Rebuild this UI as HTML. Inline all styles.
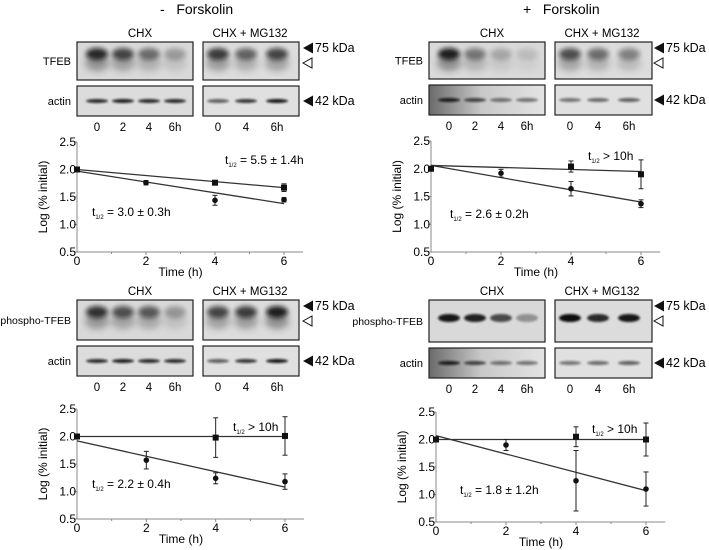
<!DOCTYPE html>
<html><head><meta charset="utf-8">
<style>
html,body{margin:0;padding:0;background:#fff;}
svg{display:block;font-family:"Liberation Sans",Arial,sans-serif;}
</style></head>
<body>
<svg id="fig" width="709" height="550" viewBox="0 0 709 550">
<defs>
<filter id="blur2" x="-50%" y="-100%" width="200%" height="300%"><feGaussianBlur stdDeviation="2.4"/></filter>
<filter id="blur3" x="-50%" y="-100%" width="200%" height="300%"><feGaussianBlur stdDeviation="3.5"/></filter>
<filter id="blur1" x="-50%" y="-100%" width="200%" height="300%"><feGaussianBlur stdDeviation="1"/></filter>
<linearGradient id="darkgrad" x1="0" x2="1" y1="0" y2="0"><stop offset="0" stop-color="#6a6a6a"/><stop offset="0.45" stop-color="#c8c8c8"/><stop offset="1" stop-color="#e4e4e4"/></linearGradient>
</defs>
<text x="160" y="14" font-size="14">-&#160;&#160;&#160;Forskolin</text>
<text x="523" y="14" font-size="14">+&#160;&#160;&#160;Forskolin</text>
</svg>
<script>
// ---- chart data ----
const times = [0, 2, 4, 6];
const timesMG = [0, 4, 6];
const yTicks = [0.5, 1.0, 1.5, 2.0, 2.5];
const xTicks = [0, 2, 4, 6];
// top-left (TFEB, -Forskolin)
const tlCHX = [2.0, 1.76, 1.44, 1.45];
const tlCHXerr = [0.02, 0.04, 0.09, 0.04];
const tlCHXfit = [1.97, 1.38];
const tlMG = [2.0, 1.76, 1.67];
const tlMGerr = [0.02, 0.03, 0.07];
const tlMGfit = [2.0, 1.67];
// top-right (TFEB, +Forskolin)
const trCHX = [2.0, 1.92, 1.64, 1.37];
const trCHXerr = [0.02, 0.07, 0.13, 0.07];
const trCHXfit = [2.06, 1.40];
const trMG = [2.0, 2.04, 1.90];
const trMGerr = [0.02, 0.1, 0.26];
const trMGfit = [2.06, 1.95];
// bottom-left (phospho-TFEB, -Forskolin)
const blCHX = [2.0, 1.57, 1.24, 1.18];
const blCHXerr = [0.02, 0.16, 0.1, 0.14];
const blCHXfit = [1.92, 1.08];
const blMG = [2.0, 1.98, 2.01];
const blMGerr = [0.02, 0.36, 0.35];
const blMGfit = [2.0, 2.0];
// bottom-right (phospho-TFEB, +Forskolin)
const brCHX = [2.0, 1.9, 1.25, 1.1];
const brCHXerr = [0.02, 0.1, 0.55, 0.31];
const brCHXfit = [2.07, 1.07];
const brMG = [2.0, 2.05, 2.0];
const brMGerr = [0.02, 0.18, 0.3];
const brMGfit = [2.0, 2.0];
// blot band intensities
const tlTFEB = [0.85, 0.7, 0.5, 0.28], tlTFEBmg = [0.75, 0.55, 0.7];
const trTFEB = [0.9, 0.45, 0.22, 0.12], trTFEBmg = [0.65, 0.5, 0.4];
const blP = [0.8, 0.65, 0.6, 0.3], blPmg = [0.7, 0.75, 0.9];
const brP = [0.95, 0.9, 0.7, 0.35], brPmg = [1, 0.85, 0.95];
const actinA = [0.85, 0.9, 0.85, 0.85], actinAmg = [0.6, 0.8, 0.95];
const actinB = [0.9, 0.7, 0.5, 0.5], actinBmg = [0.5, 0.55, 0.6];

const NS = "http://www.w3.org/2000/svg";
const svg = document.getElementById('fig');
function mk(tag, attrs, parent, txt) {
  const e = document.createElementNS(NS, tag);
  for (const k in attrs) e.setAttribute(k, attrs[k]);
  if (txt !== undefined) e.textContent = txt;
  (parent || svg).appendChild(e);
  return e;
}

function blotBox(g, x, y, w, h, bg, lanes, vals, bandH, sharp, bandY, name, tail) {
  const box = mk('g', {}, g);
  
  
  mk('rect', {x: x, y: y, width: w, height: h, fill: bg, stroke: '#222', 'stroke-width': 1.2}, box);
  lanes.forEach((lx, i) => {
    const v = vals[i];
    if (tail) mk('ellipse', {cx: lx, cy: y + bandY + 9, rx: 12, ry: 8, fill: '#222', opacity: v * 0.45, filter: 'url(#blur3)'}, box);
    const b = mk('ellipse', {cx: lx, cy: y + bandY, rx: 11, ry: bandH, fill: '#111', opacity: v, filter: sharp ? 'url(#blur1)' : 'url(#blur2)'}, box);
    
    
  });
}

function panel(ox, oy, o) {
  const g = mk('g', {});
  
  
  const L = ox + 77, R = ox + 203;
  mk('text', {x: ox + 140, y: oy + 37, 'font-size': 11.5, 'text-anchor': 'middle'}, g, 'CHX');
  mk('text', {x: ox + 250, y: oy + 37, 'font-size': 11.5, 'text-anchor': 'middle'}, g, 'CHX + MG132');
  const lanesA = [97, 123, 149, 175].map(v => v + ox);
  const lanesB = [218, 246, 277].map(v => v + ox);
  const y1 = oy + 42, h1 = o.h1, y2 = oy + 42 + h1 + 6, h2 = 30;
  const tail = !o.sharp;
  blotBox(g, L, y1, 116, h1, '#d9d9d9', lanesA, o.top, o.sharp ? 4 : 6, o.sharp, o.sharp ? 18 : 12, 'blot-chx-' + o.lab, tail);
  blotBox(g, R, y1, o.mgW, h1, '#dcdcdc', lanesB, o.topmg, o.sharp ? 4 : 6, o.sharp, o.sharp ? 18 : 12, 'blot-mg132-' + o.lab, tail);
  blotBox(g, L, y2, 116, h2, o.dark ? 'url(#darkgrad)' : '#dcdcdc', lanesA, o.act, 2, true, 15, 'blot-chx-actin', false);
  blotBox(g, R, y2, o.mgW, h2, '#e0e0e0', lanesB, o.actmg, 2, true, 15, 'blot-mg132-actin', false);
  mk('text', {x: L - 6, y: y1 + h1 / 2 + 4, 'font-size': o.labFs, 'text-anchor': 'end'}, g, o.lab);
  mk('text', {x: L - 6, y: y2 + 19, 'font-size': 11, 'text-anchor': 'end'}, g, 'actin');
  // arrows
  const ax = o.ax;
  mk('path', {d: `M${ax} ${y1 + 6} l10 -5.5 v11 z`, fill: '#111'}, g);
  mk('text', {x: ax + 12, y: y1 + 10, 'font-size': 12.5}, g, '75 kDa');
  mk('path', {d: `M${ax} ${y1 + 21} l9 -5 v10 z`, fill: 'none', stroke: '#111', 'stroke-width': 1}, g);
  mk('path', {d: `M${ax} ${y2 + 15} l10 -5.5 v11 z`, fill: '#111'}, g);
  mk('text', {x: ax + 12, y: y2 + 19, 'font-size': 12.5}, g, '42 kDa');
  const ly = y2 + h2 + 15;
  ['0', '2', '4', '6h'].forEach((t, i) => mk('text', {x: lanesA[i], y: ly, 'font-size': 11.5, 'text-anchor': 'middle'}, g, t));
  ['0', '4', '6h'].forEach((t, i) => mk('text', {x: lanesB[i], y: ly, 'font-size': 11.5, 'text-anchor': 'middle'}, g, t));

  // chart
  const c = mk('g', {}, g);
  
  
  const x0 = o.cx0, x6 = o.cx6, yTop = o.cyTop, yBot = o.cyBot;
  const sx = t => x0 + (x6 - x0) * t / 6;
  const sy = v => yBot - (yBot - yTop) * (v - 0.5) / 2;
  mk('line', {x1: x0, y1: yTop, x2: x0, y2: yBot, stroke: '#888', 'stroke-width': 1}, c);
  mk('line', {x1: x0, y1: yBot, x2: sx(6.55), y2: yBot, stroke: '#888', 'stroke-width': 1}, c);
  yTicks.forEach(v => {
    mk('line', {x1: x0 - 3, y1: sy(v), x2: x0, y2: sy(v), stroke: '#888'}, c);
    mk('text', {x: x0 - 1, y: sy(v) + 4, 'font-size': 12, 'text-anchor': 'end'}, c, v.toFixed(1));
  });
  for (let t = 1; t <= 6; t++) mk('line', {x1: sx(t), y1: yBot, x2: sx(t), y2: yBot + (t % 2 ? 2 : 3), stroke: '#888'}, c);
  xTicks.forEach(t => mk('text', {x: sx(t), y: yBot + 13, 'font-size': 12, 'text-anchor': 'middle'}, c, String(t)));
  const xt = mk('text', {x: (x0 + x6) / 2, y: yBot + 24, 'font-size': 12, 'text-anchor': 'middle'}, c, 'Time (h)');
  
  
  const yt = mk('text', {x: 0, y: 0, 'font-size': 12, 'text-anchor': 'middle', transform: `translate(${x0 - 30},${(yTop + yBot) / 2}) rotate(-90)`}, c, 'Log (% initial)');
  
  
  // fits
  [[o.chxFit], [o.mgFit]].forEach(([f]) => mk('line', {x1: sx(0), y1: sy(f[0]), x2: sx(6), y2: sy(f[1]), stroke: '#333', 'stroke-width': 1.3}, c));
  function series(ts, vals, errs, shape, nm) {
    ts.forEach((t, i) => {
      const px = sx(t), py = sy(vals[i]), e = errs[i];
      mk('line', {x1: px, y1: sy(vals[i] + e), x2: px, y2: sy(vals[i] - e), stroke: '#222', 'stroke-width': 1}, c);
      mk('line', {x1: px - 2.5, y1: sy(vals[i] + e), x2: px + 2.5, y2: sy(vals[i] + e), stroke: '#222'}, c);
      mk('line', {x1: px - 2.5, y1: sy(vals[i] - e), x2: px + 2.5, y2: sy(vals[i] - e), stroke: '#222'}, c);
      const m = shape === 'sq' ? mk('rect', {x: px - 3, y: py - 3, width: 6, height: 6, fill: '#111'}, c)
                               : mk('circle', {cx: px, cy: py, r: 2.8, fill: '#111'}, c);
      
      
    });
  }
  series(times, o.chx, o.chxErr, 'c', 'chx-point');
  series(timesMG, o.mg, o.mgErr, 'sq', 'mg132-point');
  function lbl(x, y, s, nm) {
    const t = mk('text', {x: x, y: y, 'font-size': 12}, c);
    
    
    mk('tspan', {}, t, 't');
    mk('tspan', {'font-size': 6, dy: 3}, t, '1/2');
    mk('tspan', {dy: -3}, t, ' ' + s);
  }
  lbl(o.l1[0], o.l1[1], o.l1[2], 'mg132-halflife-label');
  lbl(o.l2[0], o.l2[1], o.l2[2], 'chx-halflife-label');
}

panel(0, 0, {name: 'panel-tfeb-minus-forskolin', lab: 'TFEB', labFs: 11, h1: 38, mgW: 96, ax: 303, top: tlTFEB, topmg: tlTFEBmg, act: actinA, actmg: actinAmg,
  cx0: 77, cx6: 284, cyTop: 142, cyBot: 252, chx: tlCHX, chxErr: tlCHXerr, chxFit: tlCHXfit, mg: tlMG, mgErr: tlMGerr, mgFit: tlMGfit,
  l1: [225, 164, '= 5.5 ± 1.4h'], l2: [92, 216, '= 3.0 ± 0.3h']});
panel(352, 0, {name: 'panel-tfeb-plus-forskolin', lab: 'TFEB', labFs: 11, h1: 37, mgW: 97, ax: 654, top: trTFEB, topmg: trTFEBmg, act: actinB, actmg: actinBmg, dark: true,
  cx0: 431, cx6: 641, cyTop: 141, cyBot: 252, chx: trCHX, chxErr: trCHXerr, chxFit: trCHXfit, mg: trMG, mgErr: trMGerr, mgFit: trMGfit,
  l1: [588, 160, '> 10h'], l2: [450, 218, '= 2.6 ± 0.2h']});
panel(0, 258, {name: 'panel-phospho-minus-forskolin', lab: 'phospho-TFEB', labFs: 10.5, h1: 40, mgW: 96, ax: 303, top: blP, topmg: blPmg, act: actinA, actmg: actinAmg,
  cx0: 77, cx6: 285, cyTop: 409, cyBot: 519, chx: blCHX, chxErr: blCHXerr, chxFit: blCHXfit, mg: blMG, mgErr: blMGerr, mgFit: blMGfit,
  l1: [233, 431, '> 10h'], l2: [92, 488, '= 2.2 ± 0.4h']});
panel(352, 258, {name: 'panel-phospho-plus-forskolin', lab: 'phospho-TFEB', labFs: 10.5, h1: 42, mgW: 97, ax: 654, top: brP, topmg: brPmg, act: actinB, actmg: actinBmg, dark: true, sharp: true,
  cx0: 436, cx6: 646, cyTop: 412, cyBot: 522, chx: brCHX, chxErr: brCHXerr, chxFit: brCHXfit, mg: brMG, mgErr: brMGerr, mgFit: brMGfit,
  l1: [592, 433, '> 10h'], l2: [460, 494, '= 1.8 ± 1.2h']});
</script>
</body></html>
